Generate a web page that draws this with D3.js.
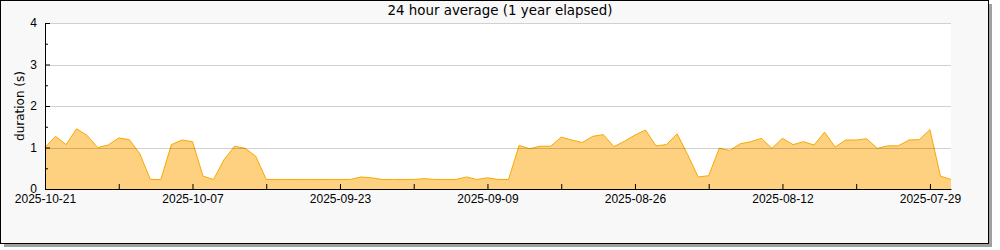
<!DOCTYPE html>
<html>
<head>
<meta charset="utf-8">
<script src="https://cdn.jsdelivr.net/npm/d3@7"></script>
<style>
  body { margin: 0; background: #fff; }
  svg { display: block; font-family: "DejaVu Sans", sans-serif; }
</style>
</head>
<body>
<svg id="chart" width="1000" height="250"></svg>
<script>
// newest day first, one value per day going back from firstDay
var firstDay = "2025-10-21";
var durations = [
    1.00, 1.27, 1.07, 1.45, 1.29, 1.00, 1.06, 1.23, 1.19, 0.85,
    0.23, 0.23, 1.07, 1.18, 1.14, 0.31, 0.23, 0.71, 1.03, 0.98,
    0.79, 0.23, 0.23, 0.23, 0.23, 0.23, 0.23, 0.23, 0.23, 0.23,
    0.29, 0.27, 0.23, 0.23, 0.23, 0.23, 0.25, 0.23, 0.23, 0.23,
    0.29, 0.23, 0.27, 0.23, 0.23, 1.05, 0.97, 1.03, 1.03, 1.25,
    1.18, 1.12, 1.27, 1.31, 1.02, 1.15, 1.30, 1.42, 1.04, 1.07,
    1.33, 0.83, 0.29, 0.32, 0.98, 0.93, 1.09, 1.14, 1.22, 0.98,
    1.22, 1.07, 1.14, 1.06, 1.37, 1.01, 1.18, 1.18, 1.21, 0.98,
    1.04, 1.04, 1.18, 1.19, 1.43, 0.31, 0.23
];
var xTickLabels = ["2025-10-21", "2025-10-07", "2025-09-23", "2025-09-09", "2025-08-26", "2025-08-12", "2025-07-29"];
var yTicks = [0, 1, 2, 3, 4];
var yMinorTicks = [0.5, 1.5, 2.5, 3.5];
var title = "24 hour average (1 year elapsed)";
var yLabel = "duration (s)";

var parse = d3.utcParse("%Y-%m-%d"),
    fmt = d3.utcFormat("%Y-%m-%d");
var start = parse(firstDay);
var data = durations.map(function (v, i) {
    return { date: d3.utcDay.offset(start, -i), value: v };
});

var svg = d3.select("#chart"),
    margin = { top: 23, left: 45, right: 49, bottom: 61 },
    width = 1000 - margin.left - margin.right,
    height = 250 - margin.top - margin.bottom;

// frame with shadow
svg.append("rect").attr("x", 4).attr("y", 4).attr("width", 988).attr("height", 243).attr("fill", "#a0a0a0");
svg.append("rect").attr("x", 0.5).attr("y", 0.5).attr("width", 988).attr("height", 243)
    .attr("fill", "#f8f8f8").attr("stroke", "#000");

svg.append("text")
    .attr("x", 500)
    .attr("y", 15)
    .attr("text-anchor", "middle")
    .style("font-size", "13.4px")
    .text(title);

var g = svg.append("g").attr("transform", "translate(" + margin.left + "," + margin.top + ")");

g.append("rect").attr("width", width).attr("height", height).attr("fill", "#fff");

var x = d3.scaleUtc()
    .domain([data[0].date, data[data.length - 1].date])
    .range([0, width]);

var y = d3.scaleLinear()
    .domain([0, 4])
    .range([height, 0]);

var area = d3.area()
    .x(function (d) { return x(d.date); })
    .y0(height)
    .y1(function (d) { return y(d.value); });

var line = d3.line()
    .x(function (d) { return x(d.date); })
    .y(function (d) { return y(d.value); });

g.append("path").datum(data).attr("d", area).attr("fill", "#fdd17f");
g.append("path").datum(data).attr("d", line)
    .attr("fill", "none").attr("stroke", "#f9a800").attr("stroke-width", 1);

// grid on top of the fill
g.selectAll(".grid")
    .data(yTicks.slice(1))
    .enter().append("line")
    .attr("class", "grid")
    .attr("x1", 0).attr("x2", width)
    .attr("y1", function (d) { return Math.round(y(d)) + 0.5; })
    .attr("y2", function (d) { return Math.round(y(d)) + 0.5; })
    .attr("stroke", "#000").attr("stroke-opacity", 0.18);

// x axis: weekly ticks, labels every two weeks
var labelSet = {};
xTickLabels.forEach(function (s) { labelSet[s] = true; });
var weekly = d3.utcDay.range(x.domain()[1], d3.utcDay.offset(x.domain()[0], 1))
    .filter(function (d) { return (start - d) / 864e5 % 7 === 0; });

var xAxis = g.append("g")
    .attr("transform", "translate(0," + height + ")")
    .call(d3.axisBottom(x)
        .tickValues(weekly)
        .tickSizeInner(-5)
        .tickSizeOuter(0)
        .tickPadding(5)
        .tickFormat(function (d) { return labelSet[fmt(d)] ? fmt(d) : ""; }));
xAxis.select(".domain").attr("stroke", "#000");
xAxis.selectAll("text").style("font-size", "12px").attr("fill", "#000");

var yAxis = g.append("g")
    .call(d3.axisLeft(y)
        .tickValues(yTicks)
        .tickSizeInner(-5)
        .tickSizeOuter(0)
        .tickPadding(8)
        .tickFormat(d3.format("d")));
yAxis.selectAll("text").style("font-size", "12px").attr("fill", "#000");

g.append("g")
    .call(d3.axisLeft(y)
        .tickValues(yMinorTicks)
        .tickSizeInner(-3)
        .tickSizeOuter(0)
        .tickFormat(""))
    .select(".domain").remove();

svg.append("text")
    .attr("transform", "rotate(-90)")
    .attr("x", -(margin.top + height / 2))
    .attr("y", 24)
    .attr("text-anchor", "middle")
    .style("font-size", "12px")
    .text(yLabel);
</script>
</body>
</html>
